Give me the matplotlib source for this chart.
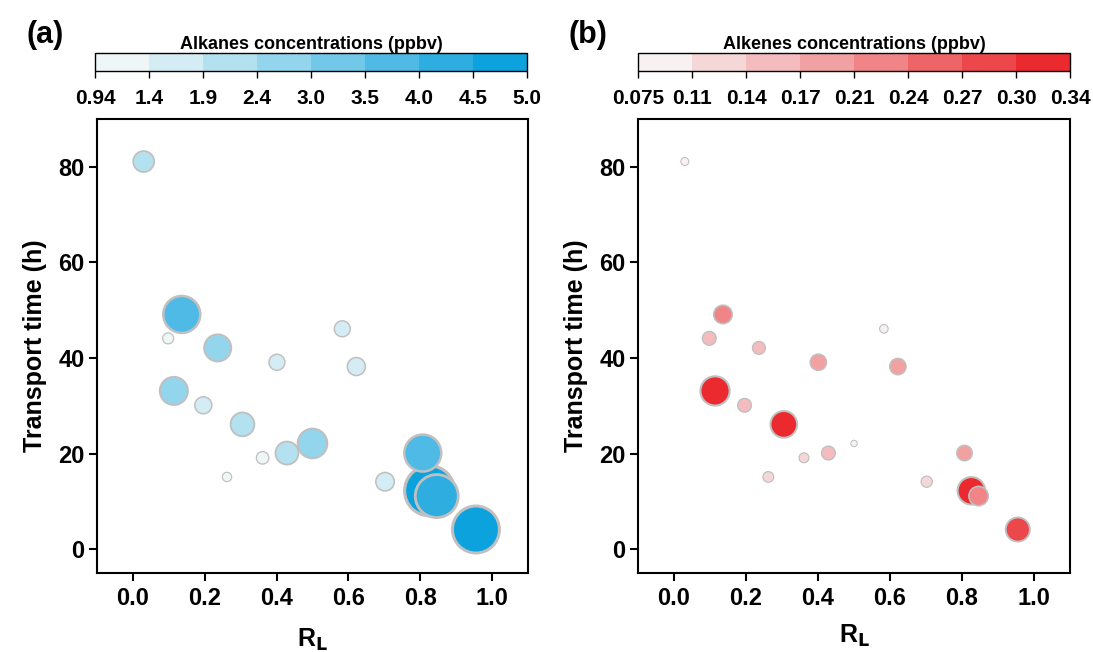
import numpy as np
import matplotlib
matplotlib.use("Agg")
import matplotlib.pyplot as plt
from matplotlib.colors import ListedColormap, BoundaryNorm

# -------------------------------------------------
# Data
# -------------------------------------------------

# ratio R (x) and transport time in hours (y), same points in both panels
r_ratio = [0.030, 0.136, 0.098, 0.236, 0.401, 0.583, 0.622, 0.114, 0.196,
           0.305, 0.361, 0.429, 0.500, 0.262, 0.702, 0.826, 0.807, 0.846,
           0.955]
transport_time = [81.1, 49.1, 44.1, 42.1, 39.1, 46.1, 38.2, 33.1, 30.1,
                  26.1, 19.1, 20.1, 22.1, 15.1, 14.1, 12.2, 20.1, 11.1,
                  4.1]

# concentrations (ppbv)
alkanes = [2.10, 3.70, 1.10, 2.70, 1.60, 1.60, 1.80, 2.80, 1.70,
           2.38, 1.25, 2.30, 2.95, 0.94, 1.85, 5.00, 3.70, 4.30,
           4.70]
alkenes = [0.093, 0.215, 0.160, 0.150, 0.190, 0.100, 0.190, 0.340, 0.160,
           0.310, 0.115, 0.160, 0.075, 0.125, 0.130, 0.320, 0.180, 0.225,
           0.280]

alkane_bounds = [0.94, 1.4, 1.9, 2.4, 3.0, 3.5, 4.0, 4.5, 5.0]
alkene_bounds = [0.075, 0.11, 0.14, 0.17, 0.21, 0.24, 0.27, 0.30, 0.34]
alkane_tick_labels = ["0.94", "1.4", "1.9", "2.4", "3.0", "3.5", "4.0", "4.5", "5.0"]
alkene_tick_labels = ["0.075", "0.11", "0.14", "0.17", "0.21", "0.24", "0.27", "0.30", "0.34"]

blue_colors = ["#eff7f6", "#d4ecf3", "#b4e1ef", "#93d5ec",
               "#71c8e8", "#4fbae5", "#2eade1", "#0ca2dd"]
red_colors = ["#f7f1f1", "#f5d7d8", "#f4bcbe", "#f2a1a3",
              "#f08486", "#ee6467", "#ec474a", "#ea2a2f"]

# -------------------------------------------------
# Style
# -------------------------------------------------

plt.rcParams["font.family"] = ["Liberation Sans", "DejaVu Sans"]
plt.rcParams["font.weight"] = "bold"
plt.rcParams["axes.labelweight"] = "bold"

fig = plt.figure(figsize=(10.93, 6.52), dpi=100)


def draw_panel(ax_rect, cax_rect, values, bounds, tick_labels, colors,
               px_per_unit, cbar_title, letter, letter_x, xlabel_pad):
    ax = fig.add_axes(ax_rect)
    cax = fig.add_axes(cax_rect)

    cmap = ListedColormap(colors)
    norm = BoundaryNorm(bounds, cmap.N)

    vals = np.array(values)
    radius_px = px_per_unit * vals
    sizes = (2 * radius_px * 0.72) ** 2
    widths = 0.5 + 0.07 * radius_px

    ax.scatter(
        r_ratio,
        transport_time,
        s=sizes,
        c=vals,
        cmap=cmap,
        norm=norm,
        edgecolors="#c0c0c0",
        linewidths=widths,
        zorder=3
    )

    ax.set_xlim(-0.1, 1.1)
    ax.set_ylim(-5, 90)
    ax.set_xticks([0.0, 0.2, 0.4, 0.6, 0.8, 1.0])
    ax.set_yticks([0, 20, 40, 60, 80])
    ax.set_xticklabels(["0.0", "0.2", "0.4", "0.6", "0.8", "1.0"])
    ax.tick_params(direction="out", length=6, width=1.5,
                   labelsize=17, pad=4)
    ax.tick_params(axis="y", pad=3)
    for label in ax.get_xticklabels() + ax.get_yticklabels():
        label.set_fontweight("bold")
    for spine in ax.spines.values():
        spine.set_linewidth(1.5)

    ax.set_ylabel("Transport time (h)", fontsize=18, fontweight="bold",
                  labelpad=8)
    ax.set_xlabel(r"R$_\mathbf{L}$", fontsize=18, fontweight="bold",
                  labelpad=xlabel_pad)

    cb = fig.colorbar(
        plt.cm.ScalarMappable(norm=norm, cmap=cmap),
        cax=cax,
        orientation="horizontal",
        spacing="uniform",
        ticks=bounds
    )
    cb.ax.set_xticklabels(tick_labels)
    cb.ax.tick_params(length=5, width=1, labelsize=15, pad=8)
    for label in cb.ax.get_xticklabels():
        label.set_fontweight("bold")
    cb.outline.set_linewidth(1)
    cb.ax.set_title(cbar_title, fontsize=13, fontweight="bold", pad=3)

    fig.text(letter_x, 1 - 35 / 652, letter, fontsize=22, fontweight="bold",
             ha="center", va="center")


draw_panel(
    [97 / 1093, 1 - 573 / 652, 431 / 1093, 454 / 652],
    [95 / 1093, 1 - 71 / 652, 432 / 1093, 18 / 652],
    alkanes, alkane_bounds, alkane_tick_labels, blue_colors,
    5.0, "Alkanes concentrations (ppbv)", "(a)", 45 / 1093, 12
)

draw_panel(
    [638 / 1093, 1 - 573 / 652, 432 / 1093, 454 / 652],
    [638 / 1093, 1 - 71 / 652, 432 / 1093, 18 / 652],
    alkenes, alkene_bounds, alkene_tick_labels, red_colors,
    43.0, "Alkenes concentrations (ppbv)", "(b)", 588 / 1093, 9
)

plt.savefig("out.png", dpi=100)
